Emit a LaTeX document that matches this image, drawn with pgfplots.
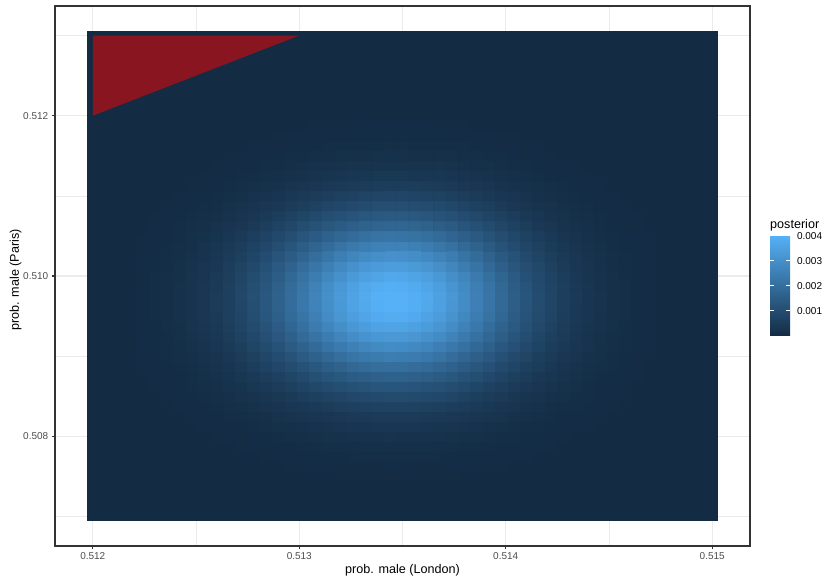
\documentclass[border=0pt]{standalone}
\usepackage{fontspec}
\setmainfont{Liberation Sans}
\usepackage{pgfplots}
\pgfplotsset{compat=1.18}
\definecolor{gglow}{RGB}{19,43,67}
\definecolor{grey92}{RGB}{235,235,235}
\definecolor{grey20}{RGB}{51,51,51}
\definecolor{grey30}{RGB}{77,77,77}
\begin{document}
\begin{tikzpicture}[x=1pt,y=1pt]
\begin{axis}[
  at={(55pt,31pt)}, anchor=south west,
  scale only axis, width=695pt, height=540pt,
  xmin=-3.05, xmax=53.05, ymin=-2.95, ymax=50.95,
  xtick={0,16.6667,33.3333,50}, xticklabels={0.512,0.513,0.514,0.515},
  ytick={8,24,40}, yticklabels={0.508,0.510,0.512},
  minor xtick={8.3333,25,41.6667}, minor ytick={0,16,32,48},
  grid=both,
  major grid style={color=grey92, line width=1.1pt},
  minor grid style={color=grey92, line width=0.55pt},
  tick align=outside, major tick length=3.2pt, minor tick length=0pt,
  tick pos=left,
  tick style={color=grey20, line width=1.1pt},
  axis line style={color=grey20, line width=1.1pt},
  ticklabel style={font=\fontsize{10}{12}\selectfont, text=grey30},
  colormap={gg}{rgb255=(19,43,67) rgb255=(86,177,247)},
  point meta min=0, point meta max=401,
  colorbar,
  colorbar/width=20pt,
  colorbar style={
    at={(parent axis.east)}, anchor=north west, xshift=11.5pt, yshift=40.5pt,
    height=100.25pt,
    ytick={100,200,300,400}, yticklabels={0.001,0.002,0.003,0.004},
    minor ytick={}, grid=none,
    tick align=inside, major tick length=20pt,
    ytick pos=left, yticklabel pos=right,
    ytick style={draw=white, line width=0.8pt, dash pattern=on 4pt off 12pt on 4pt},
    axis line style={draw=none},
    yticklabel style={font=\fontsize{10}{12}\selectfont, text=black, xshift=3.5pt},
  },
]
% background of the raster (cells with posterior ~ 0)
\addplot[draw=none, fill=gglow] coordinates {(-0.5,-0.5) (50.5,-0.5) (50.5,48.5) (-0.5,48.5)} -- cycle;
% posterior (units of 1e-5), columns i=4..45, rows j=4..39
\addplot[matrix plot*, mesh/cols=42, point meta=explicit]
 table[header=false, row sep=\\, x expr={4+mod(\coordindex,42)}, y expr={4+floor(\coordindex/42)}, meta index=0] {
0\\ 0\\ 0\\ 0\\ 0\\ 0\\ 0\\ 1\\ 1\\ 1\\ 1\\ 1\\ 2\\ 2\\ 2\\ 2\\ 3\\ 3\\ 3\\ 3\\ 3\\ 3\\ 3\\ 3\\ 3\\ 3\\ 2\\ 2\\ 2\\ 1\\ 1\\ 1\\ 1\\ 1\\ 0\\ 0\\ 0\\ 0\\ 0\\ 0\\ 0\\ 0\\
0\\ 0\\ 0\\ 0\\ 0\\ 0\\ 1\\ 1\\ 1\\ 1\\ 2\\ 2\\ 3\\ 3\\ 4\\ 4\\ 5\\ 5\\ 5\\ 5\\ 6\\ 6\\ 5\\ 5\\ 5\\ 4\\ 4\\ 3\\ 3\\ 3\\ 2\\ 2\\ 1\\ 1\\ 1\\ 1\\ 0\\ 0\\ 0\\ 0\\ 0\\ 0\\
0\\ 0\\ 0\\ 0\\ 1\\ 1\\ 1\\ 1\\ 2\\ 2\\ 3\\ 4\\ 4\\ 5\\ 6\\ 7\\ 7\\ 8\\ 9\\ 9\\ 9\\ 9\\ 9\\ 8\\ 8\\ 7\\ 7\\ 6\\ 5\\ 4\\ 3\\ 3\\ 2\\ 2\\ 1\\ 1\\ 1\\ 1\\ 0\\ 0\\ 0\\ 0\\
0\\ 0\\ 0\\ 1\\ 1\\ 1\\ 2\\ 2\\ 3\\ 4\\ 5\\ 6\\ 7\\ 8\\ 10\\ 11\\ 12\\ 13\\ 14\\ 14\\ 15\\ 14\\ 14\\ 14\\ 13\\ 12\\ 10\\ 9\\ 8\\ 7\\ 6\\ 4\\ 4\\ 3\\ 2\\ 2\\ 1\\ 1\\ 1\\ 0\\ 0\\ 0\\
0\\ 0\\ 1\\ 1\\ 1\\ 2\\ 3\\ 4\\ 5\\ 6\\ 7\\ 9\\ 11\\ 13\\ 15\\ 17\\ 19\\ 20\\ 21\\ 22\\ 23\\ 22\\ 22\\ 21\\ 20\\ 18\\ 16\\ 14\\ 12\\ 10\\ 9\\ 7\\ 6\\ 4\\ 3\\ 2\\ 2\\ 1\\ 1\\ 1\\ 0\\ 0\\
0\\ 1\\ 1\\ 2\\ 2\\ 3\\ 4\\ 5\\ 7\\ 9\\ 11\\ 14\\ 16\\ 19\\ 22\\ 25\\ 28\\ 30\\ 32\\ 33\\ 34\\ 34\\ 33\\ 31\\ 29\\ 27\\ 24\\ 21\\ 18\\ 16\\ 13\\ 10\\ 8\\ 6\\ 5\\ 4\\ 3\\ 2\\ 1\\ 1\\ 1\\ 0\\
1\\ 1\\ 2\\ 2\\ 3\\ 4\\ 6\\ 8\\ 10\\ 13\\ 16\\ 20\\ 24\\ 28\\ 32\\ 37\\ 40\\ 44\\ 46\\ 48\\ 49\\ 49\\ 48\\ 46\\ 43\\ 39\\ 35\\ 31\\ 27\\ 23\\ 19\\ 15\\ 12\\ 9\\ 7\\ 5\\ 4\\ 3\\ 2\\ 1\\ 1\\ 1\\
1\\ 1\\ 2\\ 3\\ 4\\ 6\\ 8\\ 11\\ 14\\ 18\\ 23\\ 28\\ 34\\ 40\\ 46\\ 52\\ 57\\ 62\\ 66\\ 68\\ 69\\ 69\\ 68\\ 65\\ 61\\ 56\\ 50\\ 44\\ 38\\ 32\\ 27\\ 21\\ 17\\ 13\\ 10\\ 8\\ 6\\ 4\\ 3\\ 2\\ 1\\ 1\\
1\\ 2\\ 3\\ 4\\ 6\\ 8\\ 11\\ 15\\ 20\\ 25\\ 31\\ 38\\ 46\\ 54\\ 63\\ 71\\ 78\\ 85\\ 90\\ 93\\ 95\\ 95\\ 92\\ 88\\ 83\\ 76\\ 68\\ 60\\ 52\\ 44\\ 36\\ 29\\ 23\\ 18\\ 14\\ 10\\ 8\\ 5\\ 4\\ 3\\ 2\\ 1\\
2\\ 3\\ 4\\ 6\\ 8\\ 11\\ 15\\ 20\\ 26\\ 33\\ 42\\ 51\\ 61\\ 72\\ 83\\ 94\\ 104\\ 112\\ 119\\ 124\\ 126\\ 126\\ 123\\ 117\\ 110\\ 101\\ 91\\ 80\\ 69\\ 58\\ 48\\ 39\\ 31\\ 24\\ 18\\ 14\\ 10\\ 7\\ 5\\ 3\\ 2\\ 2\\
2\\ 3\\ 5\\ 7\\ 10\\ 14\\ 19\\ 26\\ 33\\ 43\\ 54\\ 66\\ 79\\ 93\\ 107\\ 121\\ 133\\ 145\\ 153\\ 159\\ 162\\ 162\\ 158\\ 151\\ 141\\ 130\\ 117\\ 103\\ 89\\ 75\\ 62\\ 50\\ 40\\ 31\\ 24\\ 18\\ 13\\ 9\\ 6\\ 4\\ 3\\ 2\\
3\\ 4\\ 6\\ 9\\ 13\\ 18\\ 24\\ 32\\ 42\\ 53\\ 67\\ 82\\ 98\\ 116\\ 133\\ 151\\ 166\\ 180\\ 191\\ 199\\ 202\\ 202\\ 197\\ 188\\ 176\\ 162\\ 146\\ 128\\ 110\\ 93\\ 77\\ 63\\ 50\\ 39\\ 29\\ 22\\ 16\\ 11\\ 8\\ 6\\ 4\\ 2\\
3\\ 5\\ 8\\ 11\\ 15\\ 21\\ 29\\ 39\\ 51\\ 65\\ 81\\ 99\\ 119\\ 140\\ 161\\ 182\\ 201\\ 218\\ 231\\ 240\\ 245\\ 244\\ 238\\ 228\\ 213\\ 196\\ 176\\ 155\\ 134\\ 113\\ 93\\ 76\\ 60\\ 47\\ 36\\ 27\\ 19\\ 14\\ 10\\ 7\\ 5\\ 3\\
4\\ 6\\ 9\\ 13\\ 18\\ 25\\ 34\\ 45\\ 59\\ 76\\ 95\\ 116\\ 140\\ 164\\ 189\\ 214\\ 236\\ 256\\ 271\\ 282\\ 287\\ 286\\ 279\\ 267\\ 250\\ 230\\ 207\\ 182\\ 157\\ 132\\ 110\\ 89\\ 71\\ 55\\ 42\\ 31\\ 23\\ 16\\ 11\\ 8\\ 5\\ 3\\
4\\ 7\\ 10\\ 14\\ 21\\ 29\\ 39\\ 52\\ 67\\ 86\\ 108\\ 132\\ 159\\ 187\\ 215\\ 243\\ 269\\ 291\\ 309\\ 321\\ 326\\ 325\\ 318\\ 304\\ 285\\ 261\\ 235\\ 207\\ 178\\ 151\\ 125\\ 101\\ 80\\ 62\\ 47\\ 35\\ 26\\ 19\\ 13\\ 9\\ 6\\ 4\\
5\\ 7\\ 11\\ 16\\ 23\\ 31\\ 43\\ 57\\ 74\\ 95\\ 119\\ 146\\ 175\\ 206\\ 237\\ 268\\ 296\\ 321\\ 340\\ 354\\ 360\\ 359\\ 350\\ 335\\ 314\\ 288\\ 259\\ 228\\ 197\\ 166\\ 137\\ 111\\ 88\\ 69\\ 52\\ 39\\ 29\\ 20\\ 14\\ 10\\ 7\\ 4\\
5\\ 8\\ 12\\ 17\\ 24\\ 34\\ 46\\ 61\\ 79\\ 102\\ 127\\ 156\\ 187\\ 220\\ 254\\ 287\\ 317\\ 343\\ 364\\ 378\\ 385\\ 384\\ 375\\ 358\\ 336\\ 308\\ 277\\ 244\\ 210\\ 178\\ 147\\ 119\\ 95\\ 73\\ 56\\ 42\\ 31\\ 22\\ 15\\ 11\\ 7\\ 5\\
5\\ 8\\ 12\\ 18\\ 25\\ 35\\ 47\\ 63\\ 82\\ 105\\ 132\\ 162\\ 194\\ 228\\ 263\\ 297\\ 328\\ 356\\ 377\\ 392\\ 399\\ 398\\ 388\\ 371\\ 348\\ 319\\ 287\\ 253\\ 218\\ 184\\ 152\\ 123\\ 98\\ 76\\ 58\\ 43\\ 32\\ 23\\ 16\\ 11\\ 7\\ 5\\
6\\ 8\\ 12\\ 18\\ 25\\ 35\\ 48\\ 63\\ 83\\ 106\\ 132\\ 162\\ 195\\ 230\\ 265\\ 299\\ 330\\ 358\\ 379\\ 394\\ 401\\ 400\\ 390\\ 373\\ 350\\ 321\\ 289\\ 254\\ 219\\ 185\\ 153\\ 124\\ 99\\ 77\\ 58\\ 44\\ 32\\ 23\\ 16\\ 11\\ 7\\ 5\\
5\\ 8\\ 12\\ 17\\ 25\\ 34\\ 46\\ 62\\ 81\\ 103\\ 129\\ 158\\ 190\\ 224\\ 258\\ 291\\ 322\\ 349\\ 370\\ 384\\ 391\\ 390\\ 381\\ 364\\ 341\\ 313\\ 281\\ 248\\ 214\\ 180\\ 149\\ 121\\ 96\\ 75\\ 57\\ 42\\ 31\\ 22\\ 16\\ 11\\ 7\\ 5\\
5\\ 8\\ 11\\ 16\\ 23\\ 32\\ 44\\ 58\\ 76\\ 98\\ 122\\ 150\\ 180\\ 211\\ 244\\ 275\\ 304\\ 329\\ 349\\ 363\\ 370\\ 368\\ 360\\ 344\\ 322\\ 296\\ 266\\ 234\\ 202\\ 171\\ 141\\ 114\\ 91\\ 71\\ 54\\ 40\\ 29\\ 21\\ 15\\ 10\\ 7\\ 4\\
5\\ 7\\ 10\\ 15\\ 21\\ 30\\ 40\\ 54\\ 70\\ 89\\ 112\\ 137\\ 165\\ 194\\ 223\\ 252\\ 279\\ 302\\ 320\\ 333\\ 339\\ 338\\ 330\\ 315\\ 295\\ 271\\ 244\\ 214\\ 185\\ 156\\ 129\\ 105\\ 83\\ 65\\ 49\\ 37\\ 27\\ 19\\ 13\\ 9\\ 6\\ 4\\
4\\ 6\\ 9\\ 13\\ 19\\ 26\\ 36\\ 48\\ 62\\ 79\\ 99\\ 122\\ 146\\ 172\\ 198\\ 224\\ 248\\ 268\\ 284\\ 296\\ 301\\ 300\\ 293\\ 280\\ 262\\ 241\\ 216\\ 191\\ 164\\ 139\\ 115\\ 93\\ 74\\ 57\\ 44\\ 33\\ 24\\ 17\\ 12\\ 8\\ 6\\ 4\\
4\\ 5\\ 8\\ 12\\ 16\\ 23\\ 31\\ 41\\ 54\\ 68\\ 86\\ 105\\ 126\\ 148\\ 171\\ 193\\ 213\\ 231\\ 245\\ 255\\ 259\\ 258\\ 252\\ 241\\ 226\\ 207\\ 186\\ 164\\ 142\\ 120\\ 99\\ 80\\ 64\\ 49\\ 38\\ 28\\ 21\\ 15\\ 10\\ 7\\ 5\\ 3\\
3\\ 4\\ 7\\ 10\\ 14\\ 19\\ 26\\ 34\\ 45\\ 57\\ 72\\ 88\\ 105\\ 124\\ 143\\ 161\\ 178\\ 193\\ 205\\ 213\\ 217\\ 216\\ 211\\ 202\\ 189\\ 173\\ 156\\ 137\\ 118\\ 100\\ 83\\ 67\\ 53\\ 41\\ 32\\ 24\\ 17\\ 12\\ 9\\ 6\\ 4\\ 3\\
2\\ 4\\ 5\\ 8\\ 11\\ 15\\ 21\\ 28\\ 36\\ 46\\ 58\\ 71\\ 85\\ 100\\ 116\\ 131\\ 144\\ 156\\ 166\\ 172\\ 175\\ 175\\ 171\\ 163\\ 153\\ 140\\ 126\\ 111\\ 96\\ 81\\ 67\\ 54\\ 43\\ 33\\ 26\\ 19\\ 14\\ 10\\ 7\\ 5\\ 3\\ 2\\
2\\ 3\\ 4\\ 6\\ 9\\ 12\\ 16\\ 22\\ 28\\ 36\\ 45\\ 56\\ 67\\ 79\\ 91\\ 103\\ 113\\ 123\\ 130\\ 135\\ 138\\ 137\\ 134\\ 128\\ 120\\ 110\\ 99\\ 87\\ 75\\ 64\\ 53\\ 43\\ 34\\ 26\\ 20\\ 15\\ 11\\ 8\\ 5\\ 4\\ 3\\ 2\\
1\\ 2\\ 3\\ 5\\ 7\\ 9\\ 12\\ 17\\ 22\\ 28\\ 35\\ 42\\ 51\\ 60\\ 69\\ 78\\ 86\\ 93\\ 99\\ 103\\ 105\\ 105\\ 102\\ 98\\ 91\\ 84\\ 75\\ 66\\ 57\\ 48\\ 40\\ 32\\ 26\\ 20\\ 15\\ 11\\ 8\\ 6\\ 4\\ 3\\ 2\\ 1\\
1\\ 2\\ 2\\ 3\\ 5\\ 7\\ 9\\ 12\\ 16\\ 20\\ 26\\ 31\\ 38\\ 44\\ 51\\ 58\\ 64\\ 69\\ 73\\ 76\\ 77\\ 77\\ 75\\ 72\\ 68\\ 62\\ 56\\ 49\\ 42\\ 36\\ 30\\ 24\\ 19\\ 15\\ 11\\ 8\\ 6\\ 4\\ 3\\ 2\\ 1\\ 1\\
1\\ 1\\ 2\\ 2\\ 3\\ 5\\ 7\\ 9\\ 11\\ 15\\ 18\\ 22\\ 27\\ 32\\ 37\\ 41\\ 46\\ 49\\ 52\\ 54\\ 55\\ 55\\ 54\\ 52\\ 48\\ 44\\ 40\\ 35\\ 30\\ 26\\ 21\\ 17\\ 14\\ 11\\ 8\\ 6\\ 4\\ 3\\ 2\\ 2\\ 1\\ 1\\
1\\ 1\\ 1\\ 2\\ 2\\ 3\\ 5\\ 6\\ 8\\ 10\\ 13\\ 16\\ 19\\ 22\\ 25\\ 29\\ 32\\ 34\\ 36\\ 38\\ 38\\ 38\\ 37\\ 36\\ 34\\ 31\\ 28\\ 24\\ 21\\ 18\\ 15\\ 12\\ 9\\ 7\\ 6\\ 4\\ 3\\ 2\\ 2\\ 1\\ 1\\ 0\\
0\\ 1\\ 1\\ 1\\ 2\\ 2\\ 3\\ 4\\ 5\\ 7\\ 9\\ 10\\ 13\\ 15\\ 17\\ 19\\ 21\\ 23\\ 25\\ 25\\ 26\\ 26\\ 25\\ 24\\ 23\\ 21\\ 19\\ 16\\ 14\\ 12\\ 10\\ 8\\ 6\\ 5\\ 4\\ 3\\ 2\\ 1\\ 1\\ 1\\ 0\\ 0\\
0\\ 0\\ 1\\ 1\\ 1\\ 1\\ 2\\ 3\\ 3\\ 4\\ 6\\ 7\\ 8\\ 10\\ 11\\ 13\\ 14\\ 15\\ 16\\ 17\\ 17\\ 17\\ 16\\ 16\\ 15\\ 14\\ 12\\ 11\\ 9\\ 8\\ 6\\ 5\\ 4\\ 3\\ 2\\ 2\\ 1\\ 1\\ 1\\ 0\\ 0\\ 0\\
0\\ 0\\ 0\\ 0\\ 1\\ 1\\ 1\\ 2\\ 2\\ 3\\ 4\\ 4\\ 5\\ 6\\ 7\\ 8\\ 9\\ 10\\ 10\\ 10\\ 11\\ 11\\ 10\\ 10\\ 9\\ 9\\ 8\\ 7\\ 6\\ 5\\ 4\\ 3\\ 3\\ 2\\ 2\\ 1\\ 1\\ 1\\ 0\\ 0\\ 0\\ 0\\
0\\ 0\\ 0\\ 0\\ 0\\ 1\\ 1\\ 1\\ 1\\ 2\\ 2\\ 3\\ 3\\ 4\\ 4\\ 5\\ 5\\ 6\\ 6\\ 6\\ 7\\ 7\\ 6\\ 6\\ 6\\ 5\\ 5\\ 4\\ 4\\ 3\\ 3\\ 2\\ 2\\ 1\\ 1\\ 1\\ 1\\ 0\\ 0\\ 0\\ 0\\ 0\\
0\\ 0\\ 0\\ 0\\ 0\\ 0\\ 0\\ 1\\ 1\\ 1\\ 1\\ 2\\ 2\\ 2\\ 3\\ 3\\ 3\\ 3\\ 4\\ 4\\ 4\\ 4\\ 4\\ 4\\ 3\\ 3\\ 3\\ 2\\ 2\\ 2\\ 1\\ 1\\ 1\\ 1\\ 1\\ 0\\ 0\\ 0\\ 0\\ 0\\ 0\\ 0\\
};
% region overlay (red, alpha 0.5)
\addplot[draw=none, fill=red, fill opacity=0.5] coordinates {(0,48) (16.6667,48) (0,40)} -- cycle;
\end{axis}
\node[anchor=base west, inner sep=0pt, font=\fontsize{12.6}{14}\selectfont] at (770,348.5) {posterior};
\node[font=\fontsize{12.6}{14}\selectfont] at (402.5,7) {prob. male (London)};
\node[rotate=90, font=\fontsize{12.6}{14}\selectfont] at (15.5,297) {prob. male (Paris)};
\pgfresetboundingbox
\path[use as bounding box] (0,0) rectangle (823,577);
\end{tikzpicture}
\end{document}
